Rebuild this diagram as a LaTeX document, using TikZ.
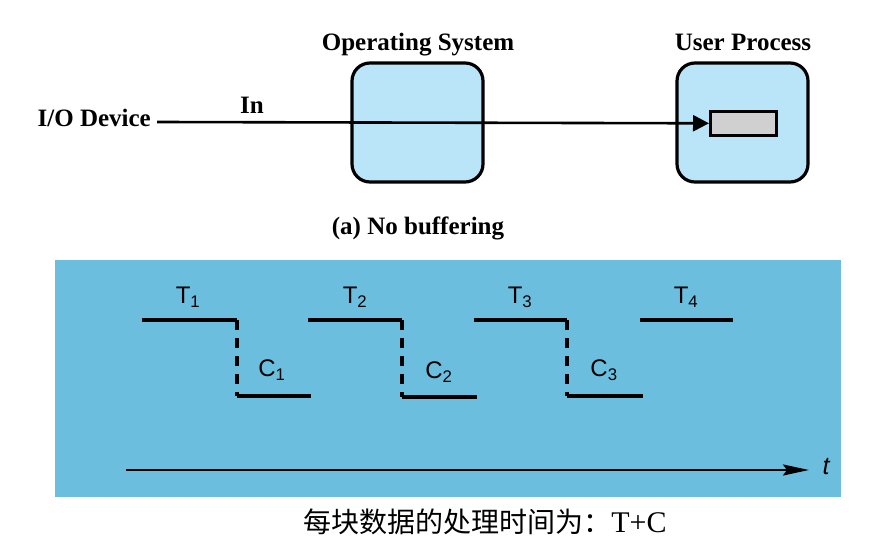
\documentclass[tikz,border=0pt]{standalone}
\usepackage{fontspec}
\setmainfont{Liberation Serif}
\setsansfont{Liberation Sans}
\newfontfamily\cjk{Noto Sans CJK SC}
\usetikzlibrary{arrows.meta}
\definecolor{boxblue}{RGB}{186,229,248}
\definecolor{panelblue}{RGB}{107,190,222}
\definecolor{bufgrey}{RGB}{208,208,208}
\tikzset{
  procbox/.style={draw=black, line width=3.2pt, fill=boxblue, rounded corners=18pt},
  toplabel/.style={font=\fontsize{25}{29}\selectfont\bfseries, anchor=base, inner sep=0pt},
  steplab/.style={font=\fontsize{24}{28}\sffamily, inner sep=0pt},
  stepline/.style={line width=3.6pt},
  dashline/.style={line width=3.4pt, dash pattern=on 10pt off 8pt},
}
\begin{document}
\begin{tikzpicture}[x=1pt, y=-1pt]
\useasboundingbox (0,0) rectangle (883,545);
% top part
\draw[procbox] (352,63) rectangle (483,182);
\draw[procbox] (677,63) rectangle (808,182);
\node[draw=black, line width=2.6pt, fill=bufgrey, minimum width=66pt, minimum height=24pt, inner sep=0pt, anchor=north west] (buf) at (709,110) {};
\node[toplabel] (os) at (418,51) {Operating System};
\node[toplabel] (up) at (743,51) {User Process};
\node[toplabel, anchor=base east] (dev) at (151,127) {I/O Device};
\node[toplabel] (in) at (252,114) {In};
\node[toplabel] (cap) at (418,235) {(a) No buffering};
\coordinate (start) at (157,122);
\draw[line width=2.6pt, -{Triangle[length=16pt, width=16pt]}] (start) -- (buf.west);
% bottom panel
\fill[panelblue] (55,260) rectangle (841,497);
\coordinate (t1a) at (142,320); \coordinate (t1b) at (237,320);
\coordinate (c1a) at (237,396); \coordinate (c1b) at (311,396);
\coordinate (t2a) at (308,320); \coordinate (t2b) at (402,320);
\coordinate (c2a) at (402,397); \coordinate (c2b) at (477,397);
\coordinate (t3a) at (474,320); \coordinate (t3b) at (567,320);
\coordinate (c3a) at (567,396); \coordinate (c3b) at (643,396);
\coordinate (t4a) at (640,320); \coordinate (t4b) at (733,320);
\draw[stepline] (t1a) -- (t1b); \draw[dashline] (t1b) -- (c1a); \draw[stepline] (c1a) -- (c1b);
\draw[stepline] (t2a) -- (t2b); \draw[dashline] (t2b) -- (c2a); \draw[stepline] (c2a) -- (c2b);
\draw[stepline] (t3a) -- (t3b); \draw[dashline] (t3b) -- (c3a); \draw[stepline] (c3a) -- (c3b);
\draw[stepline] (t4a) -- (t4b);
\node[steplab] (T1) at (188,297) {T\textsubscript{1}};
\node[steplab] (T2) at (355,297) {T\textsubscript{2}};
\node[steplab] (T3) at (520,297) {T\textsubscript{3}};
\node[steplab] (T4) at (686,297) {T\textsubscript{4}};
\node[steplab] (C1) at (272,370) {C\textsubscript{1}};
\node[steplab] (C2) at (439,372) {C\textsubscript{2}};
\node[steplab] (C3) at (604,370) {C\textsubscript{3}};
\coordinate (ax0) at (126,470);
\node[font=\fontsize{25}{29}\sffamily\itshape, inner sep=0pt] (tl) at (826,467) {t};
\draw[line width=2.4pt, -{Stealth[length=26pt, width=11pt, inset=4pt]}] (ax0) -- (809,470);
% caption
\node[font=\fontsize{28}{32}\selectfont, inner sep=0pt] (cn) at (485,522) {{\cjk 每块数据的处理时间为：}\fontsize{30}{34}\selectfont T+C};
\end{tikzpicture}
\end{document}
